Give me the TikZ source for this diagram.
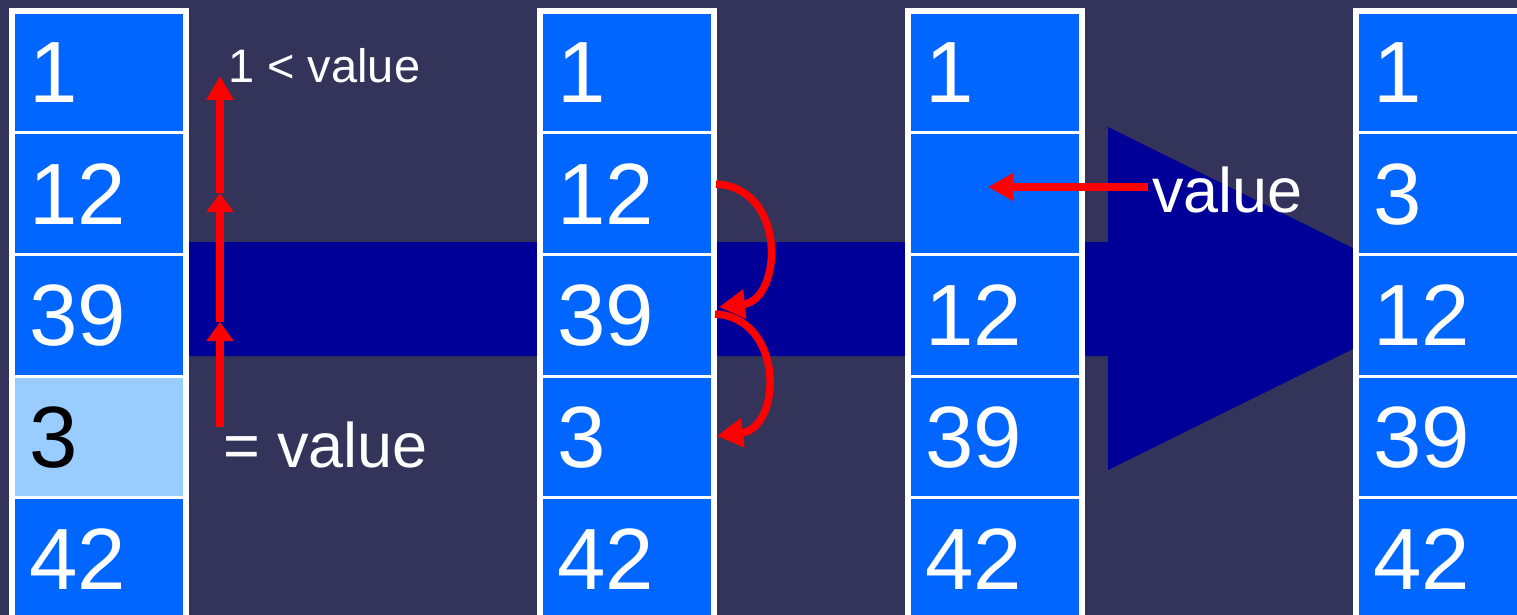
\documentclass[tikz,border=0pt]{standalone}
\usepackage{fontspec}
\setmainfont{Liberation Sans}
\usetikzlibrary{arrows.meta}
\definecolor{bgc}{HTML}{343359}
\definecolor{bigarrow}{HTML}{000099}
\definecolor{cellblue}{HTML}{0066FF}
\definecolor{lightcell}{HTML}{99CCFF}
\definecolor{redc}{HTML}{FF0000}
\newcommand\digitfont{\fontsize{87}{100}\selectfont}
\newcommand\valfont{\fontsize{63}{72}\selectfont}
\newcommand\smallvalfont{\fontsize{47}{54}\selectfont}
\tikzset{
  cell/.style={rectangle, fill=cellblue, draw=white, line width=3pt,
    minimum width=174pt, minimum height=121.7pt, text width=140pt,
    inner xsep=17pt, inner ysep=0pt, align=left, text=white, font=\digitfont,
    text height=61pt, text depth=0pt, anchor=north west, outer sep=0pt},
  hilite/.style={fill=lightcell, text=black},
  frame/.style={draw=white, line width=6pt},
  redarrow/.style={draw=redc, line width=8pt,
    -{Triangle[width=26pt,length=20pt]}},
  lbl/.style={text=white, inner sep=0pt, anchor=base west},
}
\begin{document}
\begin{tikzpicture}[x=1pt,y=-1pt]
\useasboundingbox (0,0) rectangle (1517,615);
\clip (0,0) rectangle (1517,615);
\fill[bgc] (0,0) rectangle (1517,615);
% big background arrow
\fill[bigarrow] (150,242) -- (1108,242) -- (1108,127) -- (1455,298.5)
  -- (1108,470) -- (1108,356) -- (150,356) -- cycle;
% column 1
\foreach \v [count=\i] in {1,12,39,3,42}
  \node[cell] (a\i) at (12,{11+121.7*(\i-1)}) {\v};
\node[cell,hilite] (a4) at (12,{11+121.7*3}) {3};
\draw[frame] (a1.north west) rectangle (a5.south east);
% column 2
\foreach \v [count=\i] in {1,12,39,3,42}
  \node[cell] (b\i) at (540,{11+121.7*(\i-1)}) {\v};
\draw[frame] (b1.north west) rectangle (b5.south east);
% column 3
\foreach \v [count=\i] in {1,{},12,39,42}
  \node[cell] (c\i) at (908,{11+121.7*(\i-1)}) {\v};
\draw[frame] (c1.north west) rectangle (c5.south east);
% column 4
\foreach \v [count=\i] in {1,3,12,39,42}
  \node[cell] (d\i) at (1356,{11+121.7*(\i-1)}) {\v};
\draw[frame] (d1.north west) rectangle (d5.south east);
% labels
\node[lbl, font=\smallvalfont] (t1) at (228,83) {1 < value};
\node[lbl, font=\valfont] (t2) at (223,467) {= value};
\node[lbl, font=\valfont] (t3) at (1152,212) {value};
% vertical arrow
\coordinate (v0) at (220,427);
\coordinate (v1) at (220,322);
\coordinate (v2) at (220,193);
\coordinate (v3) at (220,76);
\draw[redarrow, -{Triangle[width=26pt,length=19pt]}] (v0) -- (v1);
\draw[redarrow, -{Triangle[width=26pt,length=19pt]}] (v1) -- (v2);
\draw[redarrow, -{Triangle[width=26pt,length=24pt]}] (v2) -- (v3);
% curved arrows in column 2
\coordinate (s1) at (716,184);
\coordinate (e1) at (719,307);
\coordinate (s2) at (715,314);
\coordinate (e2) at (717,436);
\draw[redarrow, line width=7.5pt, -{Triangle[width=28pt,length=26pt]}]
  (s1) .. controls (788,188) and (782,300) .. (e1);
\draw[redarrow, line width=7.5pt, -{Triangle[width=28pt,length=26pt]}]
  (s2) .. controls (785,318) and (782,428) .. (e2);
% insertion arrow in column 3
\coordinate (ptip) at (988,187);
\draw[redarrow, -{Triangle[width=26pt,length=25pt]}, shorten <=4pt]
  (t3.west |- ptip) -- (ptip);
\end{tikzpicture}
\end{document}
